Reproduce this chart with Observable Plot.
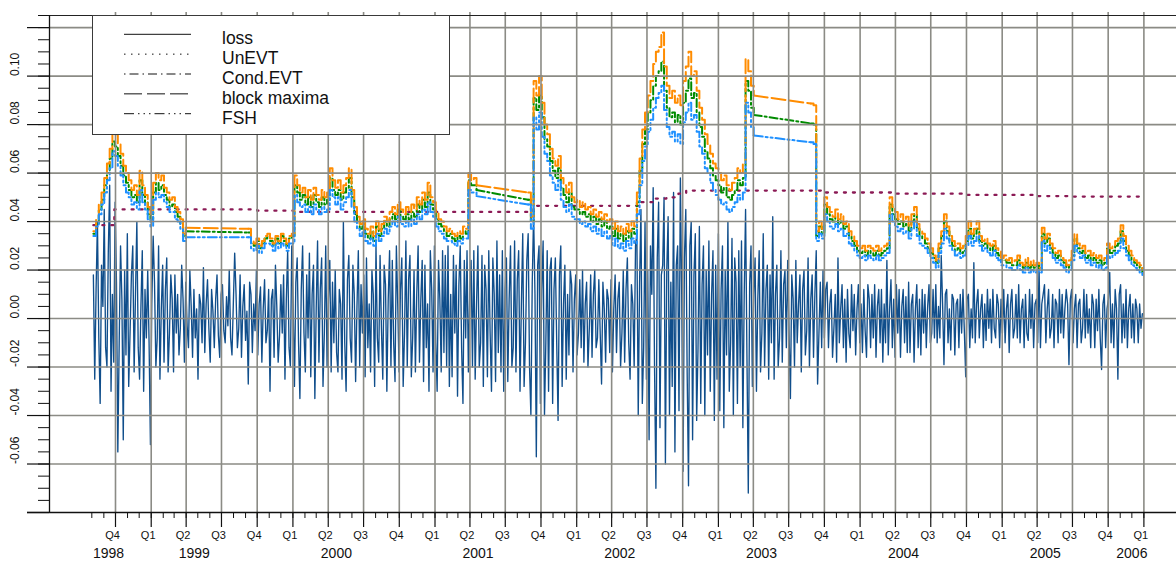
<!DOCTYPE html>
<html>
<head>
<meta charset="utf-8">
<script src="https://cdn.jsdelivr.net/npm/d3@7"></script>
<script src="https://cdn.jsdelivr.net/npm/@observablehq/plot@0.6"></script>
<style>
  html, body { margin: 0; padding: 0; background: #fff; }
  #wrap { position: relative; width: 1176px; height: 566px; overflow: hidden; font-family: "Liberation Sans", Arial, Helvetica, sans-serif; }
  #legend { position: absolute; left: 92px; top: 15px; width: 358px; height: 120px; box-sizing: border-box; border: 1px solid #3a3a3a; background: #fff; }
</style>
</head>
<body>
<div id="wrap"><div id="chart"></div><div id="legend"></div></div>
<script>
// ---------------- data ----------------
const seriesStart = "1998-08-05";
const lossStepDays = 3.5;   // loss read every half week
const varStepDays = 7;      // VaR forecasts read weekly

const lossValues = [
  .018,-.025,.012,.040,-.008,-.035,.022,.005,.045,-.012,-.020,.028,.055,-.030,.010,-.018,.048,.015,-.055,-.010,
  .030,.008,-.050,.020,-.015,.035,-.028,-.006,.018,.030,-.022,.010,.040,-.012,-.025,.005,.028,-.030,.012,-.008,
  .020,-.010,-.052,.006,.034,.015,-.020,-.008,.030,-.025,.004,.022,-.018,.012,.025,-.022,-.006,.018,.008,-.022,
  .018,-.006,.010,-.015,-.004,.022,.008,-.018,.015,-.003,-.012,.020,.005,-.016,.012,-.008,.004,-.025,.010,.006,
  -.010,.021,-.014,.006,.016,-.004,-.018,.012,.003,-.012,.008,.018,-.007,-.016,.010,.014,-.005,-.010,.009,-.003,
  .020,-.008,-.015,.006,.027,.010,-.012,-.004,.018,-.016,.005,.014,-.009,.003,-.027,.015,.010,-.014,.006,-.005,
  .020,-.015,.006,.013,-.018,.004,.016,-.010,-.005,.012,-.030,.008,.012,-.016,.022,.005,-.018,-.007,.014,-.006,
  .018,-.025,.008,.028,-.012,-.020,.030,.006,-.028,.015,.025,-.010,-.033,.012,.030,-.006,-.022,.018,-.008,.027,
  -.024,.010,.022,-.033,.004,.032,-.018,.012,.025,-.028,-.006,.030,-.020,.008,.024,-.022,.015,-.010,.020,-.014,
  -.022,.012,.006,-.025,.040,-.010,-.030,.016,.026,-.008,-.018,.022,.010,-.026,.005,.028,-.020,.014,-.006,.018,
  -.024,.025,-.012,.006,-.022,.020,.010,-.028,.030,-.008,-.018,.026,-.004,-.025,.022,.014,-.030,.008,.028,-.020,
  .024,-.010,-.026,.030,.006,-.022,.012,.025,-.028,-.006,.032,-.020,.016,.026,-.024,-.008,.020,-.022,.010,.030,
  -.018,.008,.024,-.026,.022,-.012,.006,-.030,.028,.012,-.022,.030,-.010,-.030,.024,.008,-.022,.028,-.014,.026,
  -.020,.030,-.028,.010,-.024,.026,-.006,.022,-.032,.014,.030,-.012,-.035,.024,-.008,.028,-.022,.010,.024,-.020,
  .028,-.025,.006,.030,-.020,-.010,.026,-.028,.022,.012,-.024,.028,-.006,-.030,.025,.010,-.026,.032,-.014,.018,
  -.022,.028,-.030,.012,.025,-.026,.008,.030,-.020,-.012,.032,-.022,.016,.028,-.030,.006,.035,-.028,-.010,.024,
  .035,-.020,-.040,.015,.043,.010,-.057,.022,.030,-.035,.012,.032,-.040,-.010,.028,-.030,.020,.025,-.035,.012,
  .025,-.010,-.042,.018,.030,-.028,.006,.022,-.025,.010,-.015,.020,.014,-.022,.008,.018,-.015,-.006,.016,-.012,
  .020,-.018,.006,.015,-.020,-.004,.018,-.016,.010,.020,-.012,-.008,.016,-.006,-.027,.015,.004,-.018,.012,.008,
  -.014,.016,-.022,.004,.018,-.014,.008,.015,-.020,-.006,.020,-.018,.012,.025,-.010,-.025,.014,.006,-.020,.030,
  .035,-.040,.015,.045,-.035,-.012,.040,-.025,.020,-.050,.030,.010,.054,-.020,-.070,.025,.048,-.045,.018,.022,
  .050,-.060,.020,.042,-.040,.015,-.028,.052,-.055,.022,.030,-.038,.058,.010,-.063,.025,.045,-.022,-.069,.030,
  .040,-.050,.018,.035,-.042,-.012,.038,-.035,.014,.030,-.040,.020,-.015,.032,-.030,.010,.028,-.042,.022,-.025,
  .035,-.038,.012,.030,-.045,.020,-.015,.040,-.030,-.010,.033,-.040,.025,.015,-.035,.028,-.020,.032,-.045,.010,
  .045,-.015,-.072,.014,.030,-.028,.010,.025,-.030,.008,.028,-.022,-.006,.035,-.020,.012,.022,-.025,.018,-.010,
  .042,-.025,.010,.022,-.020,-.008,.028,-.018,.014,.020,-.012,.024,-.006,-.033,.018,.008,-.020,.024,-.010,.006,
  .018,-.022,.012,.020,-.015,-.005,.025,-.020,.008,.018,-.016,.010,.028,-.027,-.006,.015,-.012,.020,-.008,.012,
  .015,-.012,.006,.012,-.016,-.004,.010,-.018,.025,-.010,.004,.014,-.012,.008,-.018,.012,-.006,-.012,.014,-.005,
  .010,-.015,.004,.014,-.010,.006,-.014,.012,-.005,-.016,.014,.008,-.012,.010,-.008,.014,-.016,.005,.012,-.010,
  .012,-.018,.006,-.010,.024,-.015,.004,.016,-.012,.008,-.016,.014,-.006,.012,-.016,.005,.012,-.010,.009,-.014,
  .015,-.014,.006,.010,-.018,.004,.014,-.012,.008,-.015,.012,-.006,.010,-.012,.005,.014,-.010,-.006,.012,-.008,
  .014,-.010,.005,-.008,.026,.006,-.019,.010,.012,-.010,.004,-.013,.010,.008,-.015,.006,.008,-.012,.010,-.006,
  .012,-.005,-.024,.008,.010,-.012,.004,-.008,.023,-.010,.006,.012,-.008,.004,.010,-.012,.006,-.009,.012,-.004,
  .008,-.010,.012,-.004,-.008,.010,.006,-.012,.008,-.006,.012,-.010,.004,.010,-.014,.006,.012,-.008,-.004,.010,
  -.008,.014,-.010,.004,.008,-.012,.010,-.006,-.009,.012,-.004,.010,-.012,.006,.008,-.010,.021,-.012,.006,.010,
  .014,-.010,.004,.012,-.008,-.004,.010,-.012,.008,.006,-.010,.012,-.006,.010,-.008,.004,.012,.006,-.019,.008,
  .012,-.010,.004,.010,-.012,.006,.008,-.010,-.004,.012,-.008,.010,-.006,.004,-.012,.010,.006,-.012,.008,-.005,
  .012,-.008,-.021,.006,.010,-.012,.004,.008,.019,-.010,.006,-.012,.012,.004,-.025,.010,.014,-.010,.006,-.008,
  .012,-.012,.004,.010,-.008,.006,-.010,.008,.004,-.010,.006,-.004,.002
];

// VaR forecasts exist in four stretches (start week, number of weeks)
const segmentStarts = [0, 57, 160, 264];
const segmentLengths = [35, 85, 84, 123];

const blockMaxima = [
  .036,.041,.047,.052,.058,.064,.070,.078,.076,.072,.068,.063,.060,.057,.053,.055,.051,.061,.055,.051,
  .046,.043,.056,.060,.057,.059,.054,.052,.049,.050,.046,.044,.041,.035,.0375,
  .037,.032,.031,.033,.030,.032,.034,.035,.033,.031,.034,.032,.035,.033,.031,.034,.035,
  .059,.055,.052,.054,.050,.053,.049,.054,.051,.049,.053,.050,.052,.062,.057,.054,.057,.052,.055,.058,.062,
  .053,.046,.042,.039,.041,.037,.035,.038,.034,.040,.036,.039,.042,.040,.044,.046,.043,.048,.045,.043,
  .046,.044,.047,.045,.050,.047,.052,.049,.056,.050,.048,.044,.041,.040,.038,.036,.037,.035,.034,.036,
  .035,.038,.037,.060,.057,.058,.055,
  .052,.042,.098,.092,.100,.089,.080,.076,.070,.066,.063,.067,.058,.055,.052,.056,.050,.048,.049,.046,
  .048,.045,.046,.043,.045,.042,.044,.041,.043,.040,.041,.037,.040,.036,.038,.035,.039,.036,.040,.038,
  .052,.066,.078,.085,.092,.098,.105,.110,.112,.118,.104,.096,.091,.094,.089,.092,.088,.098,.104,.110,
  .100,.102,.094,.087,.082,.076,.072,.068,.064,.062,.060,.057,.059,.055,.053,.056,.058,.062,.060,.064,
  .107,.102,.096,.092,
  .0887,.088,.036,.040,.037,.050,.046,.044,.042,.045,.041,.043,.039,.040,.036,.034,.032,.030,.029,.030,
  .028,.030,.029,.028,.030,.028,.029,.030,.031,.050,.046,.044,.041,.043,.040,.042,.038,.043,.046,.039,
  .036,.035,.033,.031,.029,.026,.024,.031,.036,.043,.038,.034,.032,.030,.031,.029,.030,.034,.040,.035,
  .037,.040,.034,.032,.033,.031,.030,.032,.029,.028,.025,.026,.024,.025,.023,.024,.026,.023,.022,.025,
  .022,.024,.022,.023,.021,.0375,.033,.035,.031,.029,.027,.028,.025,.024,.022,.024,.028,.035,.031,.029,
  .030,.027,.028,.026,.027,.025,.026,.024,.025,.031,.029,.030,.032,.033,.0385,.034,.030,.028,.026,.024,
  .023,.022,.0205
];

const condEVT = [
  .035,.039,.045,.049,.055,.060,.066,.073,.071,.067,.063,.059,.056,.053,.050,.051,.048,.057,.051,.048,
  .043,.041,.052,.056,.053,.055,.051,.049,.046,.047,.044,.042,.039,.034,.036,
  .0355,.031,.030,.032,.029,.031,.033,.034,.032,.030,.033,.031,.034,.032,.030,.033,.034,
  .055,.052,.049,.051,.047,.050,.046,.051,.048,.046,.050,.047,.049,.058,.053,.051,.053,.049,.052,.054,.058,
  .050,.043,.040,.037,.039,.035,.033,.036,.032,.038,.034,.037,.040,.038,.041,.043,.041,.045,.042,.041,
  .043,.041,.044,.042,.047,.044,.049,.046,.052,.047,.045,.041,.039,.038,.036,.034,.035,.033,.032,.034,
  .033,.036,.035,.057,.055,.055,.053,
  .049,.040,.091,.086,.092,.083,.074,.071,.065,.061,.058,.062,.054,.051,.048,.052,.046,.045,.045,.043,
  .044,.042,.043,.040,.042,.039,.041,.038,.040,.037,.038,.034,.037,.033,.035,.032,.036,.033,.037,.035,
  .048,.061,.072,.078,.085,.090,.096,.100,.102,.106,.094,.087,.083,.085,.081,.084,.080,.089,.094,.099,
  .091,.093,.085,.079,.075,.069,.066,.062,.059,.057,.055,.052,.054,.050,.049,.051,.053,.057,.055,.058,
  .098,.094,.087,.084,
  .0805,.080,.034,.038,.035,.047,.043,.041,.040,.042,.039,.040,.037,.038,.034,.032,.030,.028,.027,.028,
  .026,.028,.027,.026,.028,.026,.027,.028,.029,.047,.043,.041,.039,.040,.038,.039,.036,.040,.043,.037,
  .034,.033,.031,.029,.027,.025,.023,.029,.034,.040,.036,.032,.030,.028,.029,.027,.028,.032,.037,.033,
  .035,.037,.032,.030,.031,.029,.028,.030,.027,.026,.024,.024,.023,.023,.022,.022,.024,.022,.021,.023,
  .021,.022,.021,.022,.020,.035,.031,.033,.029,.027,.025,.026,.024,.023,.021,.022,.026,.033,.029,.027,
  .028,.025,.026,.024,.025,.023,.024,.022,.023,.029,.027,.028,.030,.031,.036,.032,.028,.026,.024,.023,
  .022,.021,.019
];

const fsh = [
  .034,.038,.043,.047,.052,.057,.062,.069,.067,.063,.059,.055,.052,.050,.047,.048,.045,.053,.048,.045,
  .041,.038,.049,.052,.050,.051,.048,.046,.044,.044,.041,.040,.037,.032,.0335,
  .0335,.029,.028,.030,.027,.029,.031,.031,.030,.028,.031,.029,.031,.030,.028,.031,.031,
  .051,.048,.046,.047,.044,.046,.043,.047,.045,.043,.046,.044,.045,.053,.050,.047,.050,.045,.048,.050,.053,
  .046,.040,.037,.034,.036,.032,.031,.033,.030,.035,.032,.034,.037,.035,.038,.040,.038,.042,.039,.038,
  .040,.038,.041,.039,.043,.041,.045,.043,.048,.044,.042,.038,.036,.035,.033,.032,.032,.031,.030,.032,
  .031,.033,.033,.053,.052,.052,.0505,
  .047,.037,.083,.078,.085,.075,.068,.065,.059,.056,.053,.057,.049,.046,.044,.047,.042,.041,.041,.039,
  .040,.038,.039,.036,.038,.035,.037,.034,.036,.033,.034,.030,.033,.029,.031,.028,.032,.029,.033,.031,
  .043,.055,.065,.071,.077,.082,.087,.091,.093,.096,.086,.079,.075,.077,.073,.076,.072,.081,.085,.089,
  .082,.084,.077,.071,.068,.062,.060,.056,.053,.051,.049,.047,.048,.045,.044,.046,.048,.051,.049,.052,
  .089,.085,.079,.0755,
  .0727,.072,.032,.035,.033,.043,.040,.038,.037,.039,.036,.037,.034,.035,.031,.030,.028,.026,.025,.026,
  .024,.026,.025,.024,.026,.024,.025,.026,.027,.043,.040,.038,.036,.037,.035,.036,.033,.037,.040,.034,
  .031,.030,.029,.027,.025,.023,.021,.027,.031,.037,.033,.030,.028,.026,.027,.025,.026,.030,.034,.030,
  .032,.034,.030,.028,.029,.027,.026,.028,.025,.024,.022,.022,.021,.021,.020,.020,.022,.020,.019,.021,
  .019,.020,.019,.020,.019,.032,.028,.030,.027,.025,.023,.024,.022,.021,.019,.020,.024,.030,.027,.025,
  .026,.023,.024,.022,.023,.021,.022,.020,.021,.026,.025,.026,.027,.028,.033,.029,.026,.024,.022,.021,
  .020,.019,.017
];

// unconditional EVT (step function)
const unEVTDates = ["1998-08-05","1998-09-28","1999-10-01","2000-01-03","2001-09-12","2002-06-10","2002-07-15",
  "2002-08-20","2002-09-20","2002-10-10","2003-10-01","2004-04-01","2004-10-01","2005-04-01","2005-07-01","2006-01-05"];
const unEVTValues = [.0385,.045,.0445,.044,.0465,.048,.0495,.050,.0515,.0528,.052,.0515,.051,.0505,.0503,.0503];

// axis labels
const quarterNames = ["Q1","Q2","Q3","Q4"];
const yearNames = ["1998","1999","2000","2001","2002","2003","2004","2005","2006"];
const yearLabelDates = ["1998-09-13","1999-04-22","2000-04-22","2001-04-22","2002-04-22","2003-04-22","2004-04-22","2005-04-22","2005-12-01"];
const yMajorTicks = [-0.08,-0.06,-0.04,-0.02,0,0.02,0.04,0.06,0.08,0.10,0.12];
const yLabelValues = [-0.06,-0.04,-0.02,0,0.02,0.04,0.06,0.08,0.10];
const yLabelTexts = ["-0.06","-0.04","-0.02","0.00","0.02","0.04","0.06","0.08","0.10"];

const legendNames = ["loss","UnEVT","Cond.EVT","block maxima","FSH"];
const legendDash = [null, "1.5,5.5", "1.5,4,9,4", "18,5", "10,4,1.5,4,1.5,4,1.5,4"];

// ---------------- build ----------------
const t0 = Date.parse(seriesStart + "T00:00:00Z");
const dayMs = 864e5;
const lossData = lossValues.map((v, i) => ({date: new Date(t0 + i * lossStepDays * dayMs), v}));
function segData(arr) {
  const out = [];
  let k = 0;
  segmentStarts.forEach((s, j) => {
    for (let n = 0; n < segmentLengths[j]; n++, k++) {
      if (arr[k] != null) out.push({date: new Date(t0 + (s + n) * varStepDays * dayMs), v: arr[k], seg: j});
    }
  });
  return out;
}
// straight joins across the stretches without forecasts
function gapData(rows) {
  const out = [];
  for (let j = 0; j < segmentStarts.length - 1; j++) {
    const a = rows.filter(d => d.seg === j), b = rows.filter(d => d.seg === j + 1);
    out.push({date: a[a.length - 1].date, v: a[a.length - 1].v, gap: j});
    out.push({date: b[0].date, v: b[0].v, gap: j});
  }
  return out;
}
const bmData = segData(blockMaxima);
const condData = segData(condEVT);
const fshData = segData(fsh);
const unData = unEVTDates.map((d, i) => ({date: new Date(d + "T00:00:00Z"), v: unEVTValues[i]}));

const xDomain = [new Date(Date.UTC(1998, 3, 14)), new Date(Date.UTC(2006, 2, 26))];
const monthTicks = d3.utcMonth.range(new Date(Date.UTC(1998, 7, 1)), new Date(Date.UTC(2006, 0, 2)));
const quarterTicks = d3.utcMonth.every(3).range(new Date(Date.UTC(1998, 9, 1)), new Date(Date.UTC(2006, 0, 2)));
const yMinorTicks = d3.range(0, 42).map(i => -0.08 + i * 0.005);
const yearDates = yearLabelDates.map(d => new Date(d + "T00:00:00Z"));

const gridColor = "#8b8b85";
const ink = "#111";

function varLines(rows, stroke, dash) {
  return [
    Plot.line(rows, {x: "date", y: "v", z: "seg", stroke, strokeWidth: 2, strokeDasharray: dash, curve: "step-after"}),
    Plot.line(gapData(rows), {x: "date", y: "v", z: "gap", stroke, strokeWidth: 2, strokeDasharray: dash})
  ];
}

const chart = Plot.plot({
  width: 1176,
  height: 566,
  marginLeft: 49,
  marginRight: 0,
  marginTop: 15,
  marginBottom: 54,
  x: {type: "utc", domain: xDomain, axis: null},
  y: {domain: [-0.08, 0.125], axis: null},
  style: {fontFamily: "'Liberation Sans', Arial, Helvetica, sans-serif", background: "#fff", color: "#111", overflow: "visible"},
  marks: [
    Plot.line(lossData, {x: "date", y: "v", stroke: "#104E8B", strokeWidth: 1.35}),
    Plot.line(unData, {x: "date", y: "v", stroke: "#8B1A55", strokeWidth: 2.3, strokeDasharray: "2,7", curve: "step-after"}),
    ...varLines(condData, "#008B00", "8,3,2,3"),
    ...varLines(bmData, "#FF8C00", "14,4"),
    ...varLines(fshData, "#1E90FF", "9,3,2,3,2,3"),
    // grid drawn over the data
    Plot.ruleY(yMajorTicks.slice(1), {stroke: gridColor, strokeWidth: 1.6}),
    Plot.ruleX(quarterTicks, {stroke: gridColor, strokeWidth: 1.6, insetTop: -3}),
    // frame and axes
    Plot.ruleY([0.125], {stroke: "#222", strokeWidth: 1.2}),
    Plot.ruleX([xDomain[0]], {stroke: ink, strokeWidth: 1.3}),
    Plot.ruleY([-0.08], {stroke: ink, strokeWidth: 1.3, insetLeft: -22}),
    Plot.ruleY(yMajorTicks, {stroke: ink, strokeWidth: 1.2, insetLeft: -22, insetRight: 1127}),
    Plot.ruleY(yMinorTicks, {stroke: ink, strokeWidth: 1, insetLeft: -11, insetRight: 1127}),
    Plot.ruleX(monthTicks, {stroke: ink, strokeWidth: 1, insetTop: 497, insetBottom: -6}),
    Plot.ruleX(quarterTicks, {stroke: ink, strokeWidth: 1.2, insetTop: 497, insetBottom: -15}),
    Plot.text(quarterTicks, {x: d => d, text: d => quarterNames[Math.floor(d.getUTCMonth() / 3)], frameAnchor: "bottom", dy: 26, dx: -3, fontSize: 11, fill: ink}),
    Plot.text(yearDates, {x: d => d, text: yearNames, frameAnchor: "bottom", dy: 45, fontSize: 14, fill: ink}),
    Plot.text(yLabelValues, {y: d => d, text: yLabelTexts, frameAnchor: "left", dx: -34, rotate: -90, fontSize: 12, fill: ink})
  ]
});
document.getElementById("chart").appendChild(chart);

// legend (inside the plotting region, top-left)
const lg = d3.select("#legend").append("svg").attr("width", 356).attr("height", 118);
legendNames.forEach((name, i) => {
  const yLine = 18.3 + i * 19.85;
  const ln = lg.append("line").attr("x1", 31).attr("x2", 98).attr("y1", yLine).attr("y2", yLine)
    .attr("stroke", "#111").attr("stroke-width", 1);
  if (legendDash[i]) ln.attr("stroke-dasharray", legendDash[i]);
  lg.append("text").attr("x", 129).attr("y", yLine + 10).text(name)
    .attr("font-size", 17.5).attr("fill", "#111")
    .attr("font-family", "'Liberation Sans', Arial, Helvetica, sans-serif");
});
</script>
</body>
</html>
